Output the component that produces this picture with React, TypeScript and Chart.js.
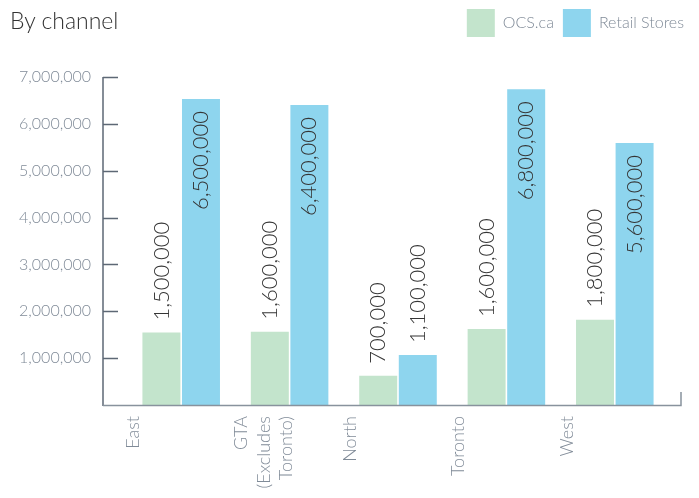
import React, { useEffect, useRef } from 'react';
import { Chart, registerables } from 'chart.js';

Chart.register(...registerables);

const chartTitle = 'By channel';
const categories: (string | string[])[] = ['East', ['GTA', '(Excludes', 'Toronto)'], 'North', 'Toronto', 'West'];
const seriesNames = ['OCS.ca', 'Retail Stores'];
const ocsValues = [1545000, 1565000, 625000, 1620000, 1820000];
const retailValues = [6530000, 6400000, 1065000, 6740000, 5590000];
const ocsLabels = ['1,500,000', '1,600,000', '700,000', '1,600,000', '1,800,000'];
const retailLabels = ['6,500,000', '6,400,000', '1,100,000', '6,800,000', '5,600,000'];
const yMin = 0;
const yMax = 7000000;
const yStep = 1000000;

const FONT = 'Lato, "Open Sans", sans-serif';
const GREEN = '#c3e4cc';
const BLUE = '#8ed5ee';
const GRAY_TEXT = '#808b98';
const DARK_TEXT = '#353535';

const valueLabels = [ocsLabels, retailLabels];

const axesPlugin = {
  id: 'customAxes',
  afterDatasetsDraw(chart: any) {
    const { ctx, chartArea, scales } = chart;
    const y = scales.y;
    const axisX = chartArea.left - 24;
    const right = chartArea.right + 12;
    ctx.save();
    ctx.lineWidth = 1.5;
    ctx.strokeStyle = '#5d6875';
    ctx.beginPath();
    ctx.moveTo(axisX, chartArea.top);
    ctx.lineTo(axisX, chartArea.bottom + 1);
    y.ticks.forEach((t: any) => {
      if (t.value === 0) return;
      const py = Math.round(y.getPixelForValue(t.value)) + 0.5;
      ctx.moveTo(axisX, py);
      ctx.lineTo(axisX + 15, py);
    });
    ctx.stroke();
    ctx.strokeStyle = '#88929d';
    ctx.beginPath();
    ctx.moveTo(axisX, chartArea.bottom + 0.5);
    ctx.lineTo(right, chartArea.bottom + 0.5);
    ctx.lineTo(right, chartArea.bottom - 13);
    ctx.stroke();
    ctx.restore();
  },
};

const labelPlugin = {
  id: 'valueLabels',
  afterDatasetsDraw(chart: any) {
    const { ctx } = chart;
    ctx.save();
    ctx.font = `300 22px ${FONT}`;
    ctx.fillStyle = DARK_TEXT;
    ctx.textBaseline = 'middle';
    chart.data.datasets.forEach((ds: any, di: number) => {
      const meta = chart.getDatasetMeta(di);
      meta.data.forEach((bar: any, i: number) => {
        const text = valueLabels[di][i];
        const w = ctx.measureText(text).width;
        const h = bar.base - bar.y;
        const gap = 12;
        ctx.save();
        if (di === 1 && h > w + gap * 2) {
          ctx.translate(bar.x, bar.y + gap);
          ctx.rotate(-Math.PI / 2);
          ctx.textAlign = 'right';
        } else {
          ctx.translate(bar.x, bar.y - gap);
          ctx.rotate(-Math.PI / 2);
          ctx.textAlign = 'left';
        }
        ctx.fillText(text, 0, 0);
        ctx.restore();
      });
    });
    ctx.restore();
  },
};

export default function App() {
  const canvasRef = useRef<HTMLCanvasElement | null>(null);

  useEffect(() => {
    if (!canvasRef.current) return;
    const chart = new Chart(canvasRef.current, {
      type: 'bar',
      data: {
        labels: categories,
        datasets: [
          {
            label: seriesNames[0],
            data: ocsValues,
            backgroundColor: GREEN,
            borderWidth: 0,
            categoryPercentage: 0.73,
            barPercentage: 0.96,
          },
          {
            label: seriesNames[1],
            data: retailValues,
            backgroundColor: BLUE,
            borderWidth: 0,
            categoryPercentage: 0.73,
            barPercentage: 0.96,
          },
        ],
      },
      options: {
        animation: false,
        responsive: true,
        maintainAspectRatio: false,
        layout: { padding: { left: 0, right: 6, top: 0, bottom: 0 } },
        plugins: {
          legend: {
            display: true,
            position: 'top',
            align: 'end',
            labels: {
              boxWidth: 28,
              boxHeight: 28,
              padding: 9,
              color: GRAY_TEXT,
              font: { family: FONT, size: 16, weight: '300' as any },
            },
          },
          title: {
            display: true,
            text: '',
            weight: 500,
            padding: 0,
            font: { size: 30, lineHeight: 1 },
          } as any,
          tooltip: { enabled: false },
        },
        scales: {
          x: {
            type: 'category',
            offset: true,
            grid: { display: false, drawTicks: false },
            border: { display: false },
            ticks: {
              autoSkip: false,
              minRotation: 90,
              maxRotation: 90,
              padding: 11,
              labelOffset: -48,
              color: GRAY_TEXT,
              font: { family: FONT, size: 18, weight: '300' as any, lineHeight: 1.25 },
            },
            afterFit: (s: any) => {
              s.height = 93;
            },
          },
          y: {
            min: yMin,
            max: yMax,
            grid: { display: false, drawTicks: false },
            border: { display: false },
            ticks: {
              stepSize: yStep,
              padding: 36,
              color: GRAY_TEXT,
              font: { family: FONT, size: 16, weight: '300' as any },
              callback: (v: any) => (Number(v) === 0 ? '' : Number(v).toLocaleString('en-US')),
            },
            afterFit: (s: any) => {
              s.width = 127;
            },
          },
          yRight: {
            position: 'right',
            display: true,
            min: yMin,
            max: yMax,
            grid: { display: false, drawTicks: false },
            border: { display: false },
            ticks: { display: false },
            afterFit: (s: any) => {
              s.width = 24;
            },
          },
        },
      },
      plugins: [axesPlugin, labelPlugin],
    });
    return () => chart.destroy();
  }, []);

  return (
    <div style={{ position: 'absolute', left: 0, top: 0, width: 699, height: 498, background: '#fff' }}>
      <canvas ref={canvasRef} />
      <div
        style={{
          position: 'absolute',
          left: 10,
          top: 9,
          fontFamily: FONT,
          fontSize: 23,
          lineHeight: 1,
          fontWeight: 300,
          color: '#333',
          whiteSpace: 'nowrap',
        }}
      >
        {chartTitle}
      </div>
    </div>
  );
}
